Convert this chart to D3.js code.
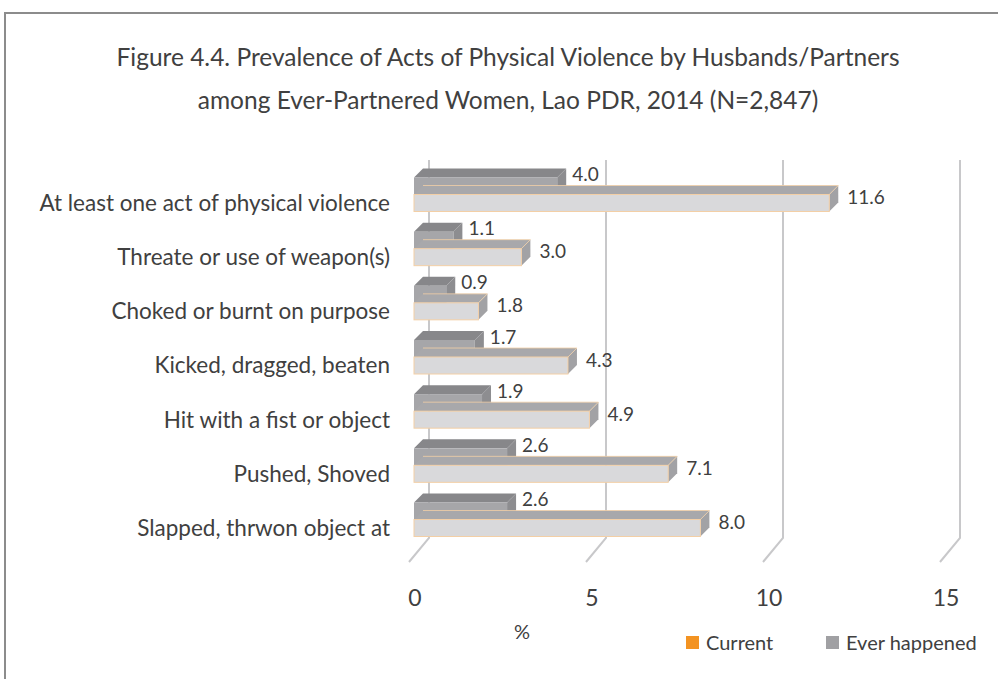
<!DOCTYPE html>
<meta charset="utf-8">
<script src="https://d3js.org/d3.v7.min.js"></script>
<style>
  body { margin: 0; background: #fff; }
  text { font-family: Lato, "Open Sans", sans-serif; fill: #404040; }
</style>
<div id="chart"></div>

<script>
    // data
    var categories = ["At least one act of physical violence", "Threate or use of weapon(s)",
        "Choked or burnt on purpose", "Kicked, dragged, beaten", "Hit with a fist or object",
        "Pushed, Shoved ", "Slapped, thrwon object at"];
    var current = [4.0, 1.1, 0.9, 1.7, 1.9, 2.6, 2.6];
    var ever = [11.6, 3.0, 1.8, 4.3, 4.9, 7.1, 8.0];
    var tickValues = [0, 5, 10, 15];
    var seriesNames = ["Current", "Ever happened"];

    var width = 998, height = 679;

    var svg = d3.select("#chart")
      .append("svg")
        .attr("width", width)
        .attr("height", height);

    // frame
    svg.append("path")
      .attr("d", "M5,690 L5,13 L1000,13")
      .attr("fill", "none")
      .attr("stroke", "#8c8c8c")
      .attr("stroke-width", 2);

    // title
    svg.append("text")
      .attr("x", 508).attr("y", 66)
      .attr("text-anchor", "middle")
      .style("font-size", "24.5px")
      .text("Figure 4.4. Prevalence of Acts of Physical Violence by Husbands/Partners");
    svg.append("text")
      .attr("x", 508).attr("y", 109)
      .attr("text-anchor", "middle")
      .style("font-size", "24.5px")
      .text("among Ever-Partnered Women, Lao PDR, 2014 (N=2,847)");

    // scales: back wall for gridlines, front for bars
    var xBack = d3.scaleLinear().domain([0, 15]).range([429, 960]);
    var xBar = d3.scaleLinear().domain([0, 15]).range([414, 951]);
    var y = d3.scalePoint().domain(categories).range([203, 528]);

    var wallTop = 160, wallBottom = 538, floorDx = -20, floorDy = 24;
    var barH = 17, dx = 9, dy = -9;

    // gridlines
    svg.selectAll(".grid")
      .data(tickValues)
      .enter()
      .append("path")
        .attr("d", function(d) {
          var x = xBack(d);
          return "M" + x + "," + wallTop + " L" + x + "," + wallBottom +
                 " L" + (x + floorDx) + "," + (wallBottom + floorDy);
        })
        .attr("fill", "none")
        .attr("stroke", "#c8c8ca")
        .attr("stroke-width", 2);

    // tick labels
    svg.selectAll(".tick")
      .data(tickValues)
      .enter()
      .append("text")
        .attr("x", function(d) { return xBack(d) - 14; })
        .attr("y", 598)
        .attr("dy", "0.35em")
        .attr("text-anchor", "middle")
        .style("font-size", "23px")
        .text(function(d) { return d; });

    svg.append("text")
      .attr("x", 522).attr("y", 632)
      .attr("dy", "0.35em")
      .attr("text-anchor", "middle")
      .style("font-size", "20px")
      .text("%");

    // 3D bar box
    function box(g, v, yTop, cols, outline) {
      var x0 = xBar(0), x1 = xBar(v);
      g.append("polygon")
        .attr("points", [[x0, yTop], [x1, yTop], [x1 + dx, yTop + dy], [x0 + dx, yTop + dy]].join(" "))
        .attr("fill", cols.top);
      g.append("polygon")
        .attr("points", [[x1, yTop], [x1 + dx, yTop + dy], [x1 + dx, yTop + dy + barH], [x1, yTop + barH]].join(" "))
        .attr("fill", cols.side);
      g.append("rect")
        .attr("x", x0).attr("y", yTop)
        .attr("width", x1 - x0).attr("height", barH)
        .attr("fill", cols.front)
        .attr("stroke", outline || "none")
        .attr("stroke-width", 1);
      if (outline) {
        g.append("path")
          .attr("d", "M" + x1 + "," + yTop + " L" + (x1 + dx) + "," + (yTop + dy) + " L" + (x0 + dx) + "," + (yTop + dy))
          .attr("fill", "none")
          .attr("stroke", outline)
          .attr("stroke-width", 0.8);
      }
    }

    var darkCols = {front: "#a6a6a9", top: "#87878a", side: "#8d8d90"};
    var lightCols = {front: "#d9d9db", top: "#a8a8ab", side: "#a2a2a5"};

    categories.forEach(function(c, i) {
      var g = svg.append("g");
      var lightTop = y(c) - barH / 2;
      var darkTop = lightTop - barH;
      box(g, current[i], darkTop, darkCols, null);
      box(g, ever[i], lightTop, lightCols, "#f3cfa6");

      g.append("text")
        .attr("x", xBar(current[i]) + dx + 6)
        .attr("y", darkTop - 3)
        .attr("dy", "0.35em")
        .style("font-size", "19px")
        .text(current[i].toFixed(1));
      g.append("text")
        .attr("x", xBar(ever[i]) + 18)
        .attr("y", lightTop + 3)
        .attr("dy", "0.35em")
        .style("font-size", "19px")
        .text(ever[i].toFixed(1));

      g.append("text")
        .attr("x", 390)
        .attr("y", y(c))
        .attr("dy", "0.35em")
        .attr("text-anchor", "end")
        .style("font-size", "22.5px")
        .text(c);
    });

    // legend
    var legendColors = ["#f39322", "#a0a0a3"];
    var legendX = [686, 826];
    var legend = svg.selectAll(".legend")
      .data(seriesNames)
      .enter()
      .append("g");
    legend.append("rect")
      .attr("x", function(d, i) { return legendX[i]; })
      .attr("y", 636)
      .attr("width", 13).attr("height", 13)
      .attr("fill", function(d, i) { return legendColors[i]; });
    legend.append("text")
      .attr("x", function(d, i) { return legendX[i] + 20; })
      .attr("y", 643)
      .attr("dy", "0.35em")
      .style("font-size", "20px")
      .text(function(d) { return d; });
</script>
